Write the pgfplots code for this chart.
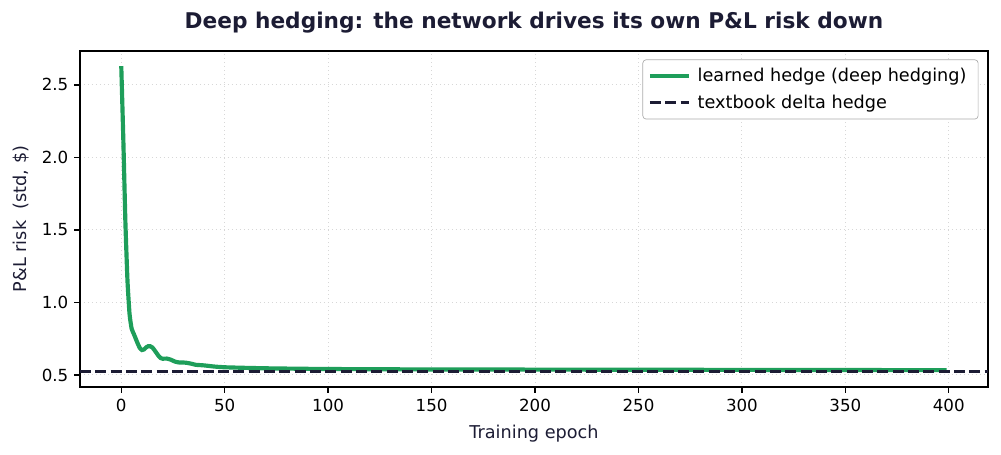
\documentclass[border=0pt]{standalone}
\usepackage{pgfplots}
\pgfplotsset{compat=1.18}
\usepackage{fontspec}
\setmainfont{DejaVu Sans}
\definecolor{lgreen}{RGB}{30,158,90}
\definecolor{navy}{RGB}{28,28,52}
\definecolor{gridc}{RGB}{215,215,215}
\begin{document}
\begin{tikzpicture}
\path[use as bounding box] (-48pt,-40.8pt) rectangle (552.6pt,232.2pt);
\begin{axis}[
  at={(0,0)}, anchor=south west,
  scale only axis, width=544.8pt, height=201.6pt,
  xmin=-19.95, xmax=418.95, ymin=0.417, ymax=2.734,
  xtick={0,50,...,400},
  ytick={0.5,1.0,1.5,2.0,2.5},
  yticklabel style={/pgf/number format/.cd, fixed, fixed zerofill, precision=1},
  /pgf/number format/assume math mode=true,
  tick align=outside, tick pos=left,
  major tick length=3.5pt,
  every tick/.style={black, line width=0.8pt},
  axis line style={black, line width=0.8pt},
  font=\fontsize{10}{12}\selectfont,
  ticklabel style={font=\fontsize{10}{12}\selectfont},
  grid=major,
  major grid style={gridc, dotted, line width=0.6pt},
  xlabel={Training epoch},
  ylabel={P\&L risk\ \ (std, \$)},
  xlabel style={navy, font=\fontsize{10.6}{12}\selectfont, yshift=-1.5pt},
  ylabel style={navy, font=\fontsize{10.6}{12}\selectfont, yshift=0.5pt},
  title={\bfseries Deep hedging: the network drives its own P\&L risk down},
  title style={navy, font=\fontsize{13}{15}\selectfont, yshift=1pt},
  legend style={at={(0.9895,0.975)}, anchor=north east, draw=gridc!80!black, rounded corners=2pt,
    font=\fontsize{10.6}{12.5}\selectfont, row sep=2.5pt, inner xsep=3pt, inner ysep=3pt,
    nodes={inner xsep=4pt}},
  legend cell align=left,
  legend image code/.code={\draw[#1] (0pt,0pt) -- (23.4pt,0pt);},
]
\addplot[lgreen, line width=2.5pt, smooth, tension=0.3] coordinates {
(0,2.63) (1,2.12) (2,1.55) (3,1.15) (4,0.92) (5,0.82) (6,0.785) (7,0.75) (8,0.715) (9,0.685)
(10,0.672) (11,0.676) (12,0.69) (13,0.698) (14,0.698) (15,0.69) (16,0.672) (17,0.652) (18,0.632)
(19,0.617) (20,0.612) (22,0.613) (24,0.605) (26,0.592) (28,0.586) (30,0.586) (32,0.583)
(34,0.577) (36,0.57) (38,0.568) (40,0.566) (45,0.558) (50,0.553) (60,0.549) (70,0.546)
(80,0.544) (100,0.541) (150,0.538) (200,0.537) (250,0.536) (300,0.535) (350,0.534) (399,0.533)
};
\addlegendentry{learned hedge (deep hedging)}
\addplot[navy, line width=1.6pt, dash pattern=on 6.6pt off 2.6pt] coordinates {(-19.95,0.523) (418.95,0.523)};
\addlegendentry{textbook delta hedge}
\end{axis}
\end{tikzpicture}
\end{document}
